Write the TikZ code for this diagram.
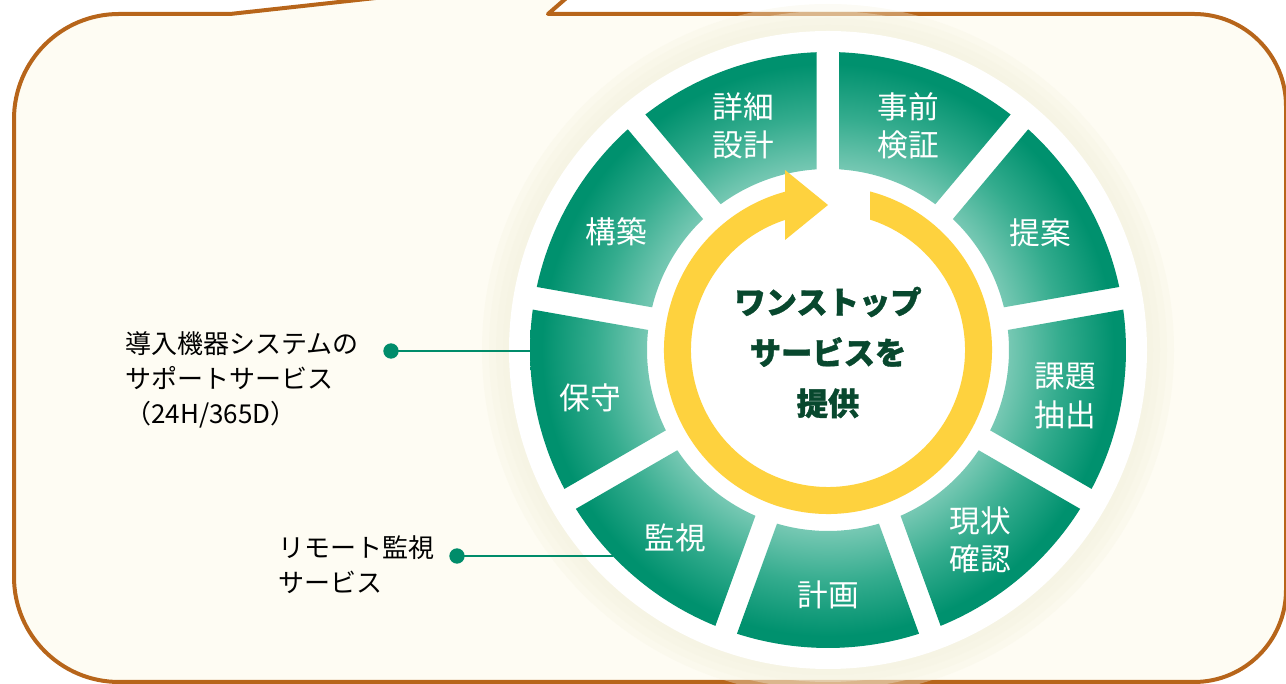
\documentclass[tikz,border=0pt]{standalone}
\usepackage{fontspec}
\newfontfamily\jp{Noto Sans CJK JP}
\newfontfamily\jpheavy{Noto Sans CJK JP}[BoldFeatures={FakeBold=1.2}]
\definecolor{brownb}{RGB}{183,101,26}
\definecolor{cream}{RGB}{254,252,243}
\definecolor{glow}{RGB}{246,244,226}
\definecolor{tdark}{RGB}{0,145,110}
\definecolor{tmid}{RGB}{52,172,142}
\definecolor{tlight}{RGB}{118,200,179}
\definecolor{ylw}{RGB}{254,210,62}
\definecolor{cgreen}{RGB}{8,72,46}
\definecolor{lteal}{RGB}{0,140,106}
\pgfdeclareradialshading{segshade}{\pgfpoint{0bp}{0bp}}{color(0bp)=(tlight);color(15.2bp)=(tlight);color(19.5bp)=(tmid);color(24bp)=(tdark);color(50bp)=(tdark)}
\begin{document}
\begin{tikzpicture}[x=0.75pt,y=0.75pt,
  seglabel/.style={text=white, font=\jp\fontsize{23}{28.7}\selectfont, align=center, inner sep=0pt},
  sidelabel/.style={text=black, font=\jp\fontsize{19.5}{26.3}\selectfont, align=left, inner sep=0pt, anchor=west},
  dot/.style={circle, fill=lteal, inner sep=0pt, minimum size=11.5pt},
  conn/.style={lteal, line width=1.5pt}]
\useasboundingbox (0,0) rectangle (1286,684);
\clip (0,0) rectangle (1286,684);
% speech-bubble frame
\draw[brownb, line width=3pt, fill=cream, line join=round]
  (230,670) -- (119,670) arc[start angle=90,end angle=180,radius=105]
  -- (14,107) arc[start angle=180,end angle=270,radius=105]
  -- (1194,2) arc[start angle=270,end angle=360,radius=92]
  -- (1286,578) arc[start angle=0,end angle=90,radius=92]
  -- (548,670) -- (594,710) -- cycle;
\begin{scope}[shift={(828,334)}]
  % glow
  \foreach \r in {346,339,332,325}
    \fill[glow, opacity=0.35] (0,0) circle[radius=\r];
  % white disc
  \fill[white] (0,0) circle[radius=319];
  % segments
  \foreach \p [evaluate=\p as \oa using \p+17.79,
               evaluate=\p as \ob using \p-17.79,
               evaluate=\p as \ia using \p+16.36,
               evaluate=\p as \ib using \p-16.36] in {70,30,-10,-50,-90,-130,-170,150,110} {
    \begin{scope}
      \clip (\oa:298) arc[start angle=\oa, end angle=\ob, radius=298]
        -- (\ib:181) arc[start angle=\ib, end angle=\ia, radius=181] -- cycle;
      \shade[shading=segshade] (0,0) circle[radius=298];
    \end{scope}
  }
  % yellow cycle arrow
  \fill[ylw] (75.16:164) arc[start angle=75.16, end angle=-254.8, radius=164]
    -- (-43,180) -- (0,145) -- (-43,110)
    -- (-251.71:137) arc[start angle=-251.71, end angle=72.15, radius=137] -- cycle;
\end{scope}
% segment labels
\node[seglabel] (s1) at (743,558) {詳細\\設計};
\node[seglabel] (s2) at (908,558) {事前\\検証};
\node[seglabel] (s3) at (1040,451) {提案};
\node[seglabel] (s4) at (1065,288) {課題\\抽出};
\node[seglabel] (s5) at (980,144) {現状\\確認};
\node[seglabel] (s6) at (828,89) {計画};
\node[seglabel] (s7) at (675,146) {監視};
\node[seglabel] (s8) at (590,286) {保守};
\node[seglabel] (s9) at (616,452) {構築};
% center text
\node[text=cgreen, font=\jpheavy\bfseries\fontsize{23.5}{38}\selectfont, align=center, inner sep=0pt] (ctr) at (828,331.5) {ワンストップ\\サービスを\\提供};
% side labels and connectors
\node[sidelabel] (l1) at (125,304) {導入機器システムの\\サポートサービス\\（24H/365D）};
\node[sidelabel] (l2) at (278,119) {リモート監視\\サービス};
\node[dot] (d1) at (391,333) {};
\coordinate (e1) at (530,333);
\node[dot] (d2) at (457,128) {};
\coordinate (e2) at (613,128);
\draw[conn] (d1.center) -- (e1);
\draw[conn] (d2.center) -- (e2);
\end{tikzpicture}
\end{document}
